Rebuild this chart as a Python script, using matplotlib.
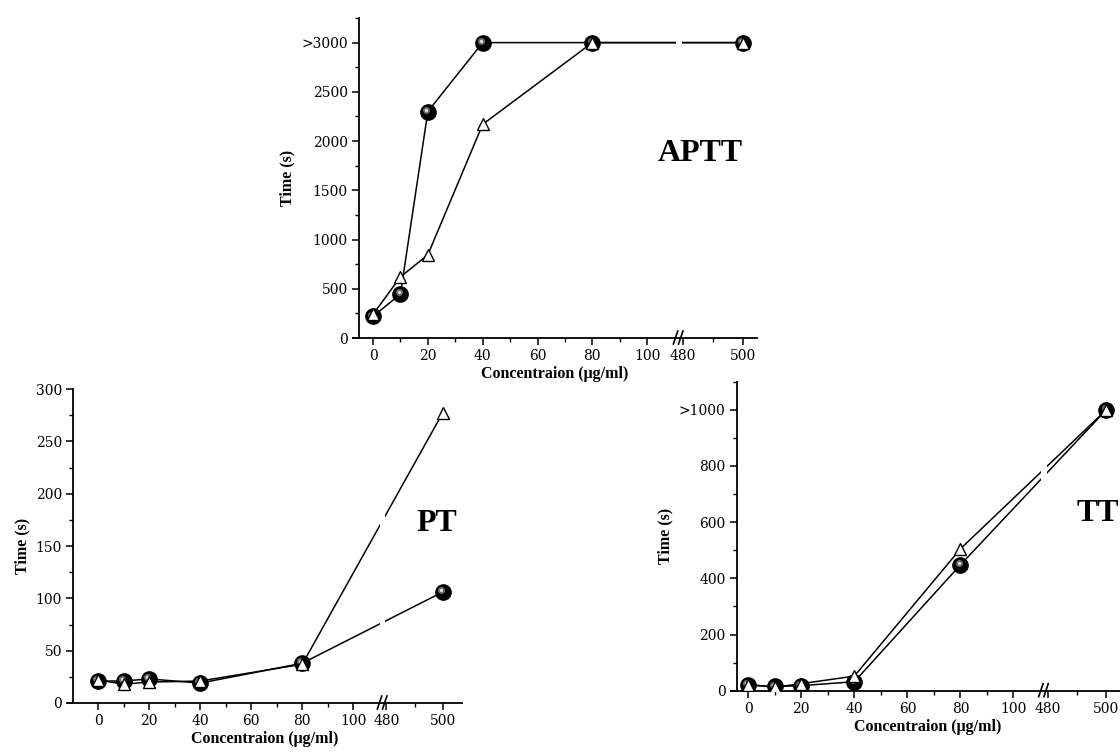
import numpy as np
import matplotlib
matplotlib.use("Agg")
import matplotlib.pyplot as plt
from matplotlib.transforms import offset_copy

plt.rcParams["font.family"] = ["Liberation Serif", "DejaVu Serif"]

# ---------- data ----------
conc = [0, 10, 20, 40, 80, 500]

aptt_circle = [220, 445, 2300, 3000, 3000, 3000]
aptt_tri = [240, 620, 845, 2170, 3000, 3000]

pt_circle = [21, 21, 23, 19, 38, 106]
pt_tri = [22, 18, 20, 21, 37, 277]

tt_circle = [20, 15, 18, 32, 448, 1000]
tt_tri = [22, 12, 25, 52, 505, 1000]

x_ticks = [0, 20, 40, 60, 80, 100, 480, 500]
x_labels = ["0", "20", "40", "60", "80", "100", "480", "500"]
x_minor = [10, 30, 50, 70, 90, 490]

aptt_yticks = [0, 500, 1000, 1500, 2000, 2500, 3000]
aptt_ylabels = ["0", "500", "1000", "1500", "2000", "2500", ">3000"]
pt_yticks = [0, 50, 100, 150, 200, 250, 300]
pt_ylabels = ["0", "50", "100", "150", "200", "250", "300"]
tt_yticks = [0, 200, 400, 600, 800, 1000]
tt_ylabels = ["0", "200", "400", "600", "800", ">1000"]


# ---------- broken x axis as a function scale ----------
def fwd(x):
    x = np.asarray(x, dtype=float)
    return np.where(x <= 100, x,
                    np.where(x < 480, 100 + (x - 100) * 13 / 380,
                             113 + (x - 480) * 1.1))


def inv(t):
    t = np.asarray(t, dtype=float)
    return np.where(t <= 100, t,
                    np.where(t < 113, 100 + (t - 100) * 380 / 13,
                             480 + (t - 113) / 1.1))


W, H = 1120, 754
fig = plt.figure(figsize=(W / 100, H / 100), dpi=100)


def panel(rect, circ, tri, xlim, spine_x, ylim, yticks, ylabels, yminor,
          name, name_xy):
    ax = fig.add_axes(rect)
    ax.set_xscale("function", functions=(fwd, inv))

    ax.plot(conc, circ, color="black", lw=1.1, zorder=2)
    ax.plot(conc, tri, color="black", lw=1.1, zorder=2)
    # gap in the lines where the axis is broken
    ax.axvspan(405, 468, ymin=0.02, ymax=1, color="white", lw=0, zorder=2.5)

    # shaded "sphere" circles
    ax.plot(conc, circ, "o", ms=11, mfc="black", mec="black", zorder=3)
    hl = offset_copy(ax.transData, fig=fig, x=-1.3, y=1.3, units="points")
    ax.plot(conc, circ, "o", ms=5, mfc="#6e6e6e", mec="none",
            transform=hl, zorder=3.1)
    ax.plot(conc, circ, "o", ms=2.3, mfc="#e0e0e0", mec="none",
            transform=hl, zorder=3.2)
    # open triangles
    ax.plot(conc, tri, "^", ms=9, mfc="white", mec="black", mew=1, zorder=4)

    ax.set_xlim(xlim)
    ax.set_ylim(ylim)
    ax.set_xticks(x_ticks, x_labels)
    ax.set_xticks(x_minor, minor=True)
    ax.set_yticks(yticks, ylabels)
    ax.set_yticks(yminor, minor=True)

    for s in ["top", "right"]:
        ax.spines[s].set_visible(False)
    for s in ["left", "bottom"]:
        ax.spines[s].set_linewidth(1.3)
    ax.spines["left"].set_position(("data", spine_x))
    ax.tick_params(which="major", direction="out", length=5, width=1.1,
                   labelsize=10, pad=3, labelfontfamily="DejaVu Serif")
    ax.tick_params(which="minor", direction="out", length=3, width=1.0)

    ax.set_ylabel("Time (s)", fontsize=11.5, fontweight="bold", labelpad=4)
    ax.set_xlabel("Concentraion (\u03bcg/ml)", fontsize=11.5,
                  fontweight="bold", labelpad=2)

    ax.text(name_xy[0], name_xy[1], name, transform=ax.transAxes,
            fontsize=23, fontweight="bold", ha="center", va="center")

    # "//" break marks on the x axis
    t0, t1 = fwd(xlim[0]), fwd(xlim[1])
    wpx, hpx = rect[2] * W, rect[3] * H
    bx = (111.3 - t0) / (t1 - t0)
    for dx in (-2.6, 2.6):
        cx = bx + dx / wpx
        ax.plot([cx - 2.2 / wpx, cx + 2.2 / wpx], [-6 / hpx, 7 / hpx],
                color="black", lw=1.2, transform=ax.transAxes,
                clip_on=False, zorder=5)
    return ax


# APTT (top centre)
panel([353 / W, 1 - 338 / H, 404 / W, 320 / H], aptt_circle, aptt_tri,
      (-7.3, 504.6), -5.1, (0, 3250), aptt_yticks, aptt_ylabels,
      [250, 750, 1250, 1750, 2250, 2750, 3250], "APTT", (0.859, 0.578))

# PT (bottom left)
panel([68 / W, 1 - 703 / H, 394 / W, 314 / H], pt_circle, pt_tri,
      (-11.8, 506.9), -9.8, (0, 300), pt_yticks, pt_ylabels,
      [25, 75, 125, 175, 225, 275], "PT", (0.937, 0.573))

# TT (bottom right, cut by the image edge)
panel([731 / W, 1 - 690.7 / H, 394 / W, 309 / H], tt_circle, tt_tri,
      (-6.5, 506.4), -4.3, (0, 1100), tt_yticks, tt_ylabels,
      [100, 300, 500, 700, 900, 1100], "TT", (0.931, 0.575))

fig.savefig("out.png", dpi=100)
